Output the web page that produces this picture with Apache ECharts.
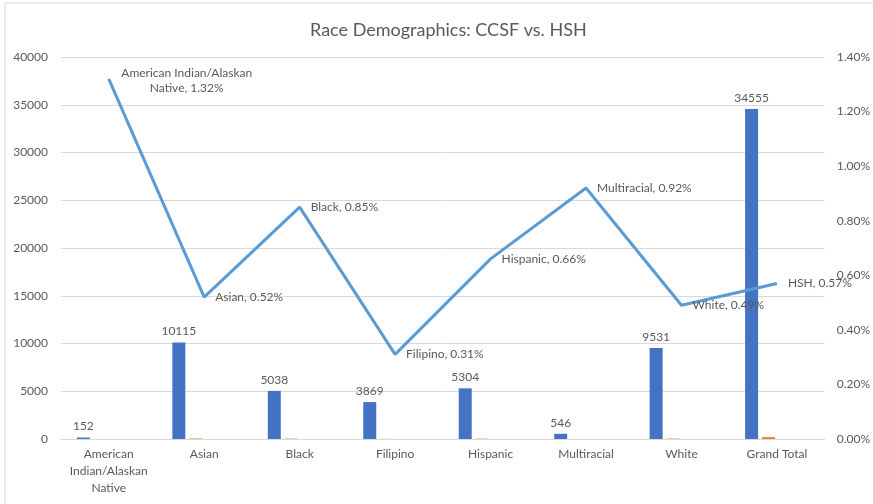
<!DOCTYPE html>
<html>
<head>
<meta charset="utf-8">
<script src="https://cdn.jsdelivr.net/npm/echarts@6/dist/echarts.min.js"></script>
<style>
  html, body { margin: 0; padding: 0; background: #fff; }
  #chart { width: 873px; height: 504px; }
</style>
</head>
<body>
<div id="chart"></div>
<script>
// data
const categories = ['American\nIndian/Alaskan\nNative', 'Asian', 'Black', 'Filipino', 'Hispanic', 'Multiracial', 'White', 'Grand Total'];
const pointNames = ['American Indian/Alaskan\nNative', 'Asian', 'Black', 'Filipino', 'Hispanic', 'Multiracial', 'White', 'HSH'];
const ccsfCounts = [152, 10115, 5038, 3869, 5304, 546, 9531, 34555];
const hshCounts = [2, 53, 43, 12, 35, 5, 47, 197];
const hshPercent = [1.32, 0.52, 0.85, 0.31, 0.66, 0.92, 0.49, 0.57];
const emptySeries = [null, null, null, null, null, null, null, null];

const textColor = '#595959';
const gridColor = '#D9D9D9';
const font = 'Lato, "Noto Sans", sans-serif';

const myChart = echarts.init(document.getElementById('chart'));

const option = {
  textStyle: { fontFamily: font },
  title: {
    text: 'Race Demographics: CCSF vs. HSH',
    left: 305,
    top: 16,
    textStyle: { fontSize: 18, fontWeight: 'normal', color: textColor, fontFamily: font }
  },
  graphic: [{
    type: 'rect',
    shape: { x: 5, y: 3, width: 900, height: 600 },
    style: { fill: 'none', stroke: gridColor, lineWidth: 1 },
    silent: true
  }],
  grid: { left: 61, right: 47, top: 57, bottom: 65 },
  xAxis: {
    type: 'category',
    data: categories,
    axisLine: { lineStyle: { color: gridColor } },
    axisTick: { show: false },
    axisLabel: {
      color: textColor,
      fontSize: 12,
      lineHeight: 17,
      margin: 7,
      interval: 0
    }
  },
  yAxis: [
    {
      type: 'value',
      min: 0,
      max: 40000,
      interval: 5000,
      axisLine: { show: false },
      axisTick: { show: false },
      splitLine: { lineStyle: { color: gridColor } },
      axisLabel: { color: textColor, fontSize: 12, margin: 13, formatter: (v) => String(v) }
    },
    {
      type: 'value',
      min: 0,
      max: 1.4,
      interval: 0.2,
      axisLine: { show: false },
      axisTick: { show: false },
      splitLine: { show: false },
      axisLabel: {
        color: textColor,
        fontSize: 12,
        margin: 12,
        formatter: (v) => v.toFixed(2) + '%'
      }
    }
  ],
  series: [
    {
      name: 'CCSF',
      type: 'bar',
      barWidth: 13,
      barGap: '30%',
      itemStyle: { color: '#4472C4' },
      label: { show: true, position: 'top', distance: 5, color: textColor, fontSize: 12 },
      data: ccsfCounts
    },
    {
      name: 'HSH count',
      type: 'bar',
      barWidth: 13,
      barGap: '30%',
      itemStyle: { color: '#ED7D31' },
      data: hshCounts
    },
    { name: 'spare1', type: 'bar', barWidth: 13, barGap: '30%', data: emptySeries },
    { name: 'spare2', type: 'bar', barWidth: 13, barGap: '30%', data: emptySeries },
    {
      name: 'HSH',
      type: 'line',
      yAxisIndex: 1,
      symbol: 'circle',
      symbolSize: 0,
      showSymbol: true,
      z: 5,
      lineStyle: { color: '#5B9BD5', width: 3 },
      itemStyle: { color: '#5B9BD5' },
      label: {
        show: true,
        position: 'right',
        distance: 11,
        color: textColor,
        fontSize: 12,
        formatter: (p) => pointNames[p.dataIndex] + ', ' + p.value.toFixed(2) + '%'
      },
      labelLayout: { hideOverlap: false },
      data: hshPercent.map((v, i) => i === 0
        ? { value: v, label: { position: [78, 2], align: 'center', verticalAlign: 'middle', lineHeight: 15 } }
        : { value: v })
    }
  ]
};

myChart.setOption(option);
</script>
</body>
</html>
